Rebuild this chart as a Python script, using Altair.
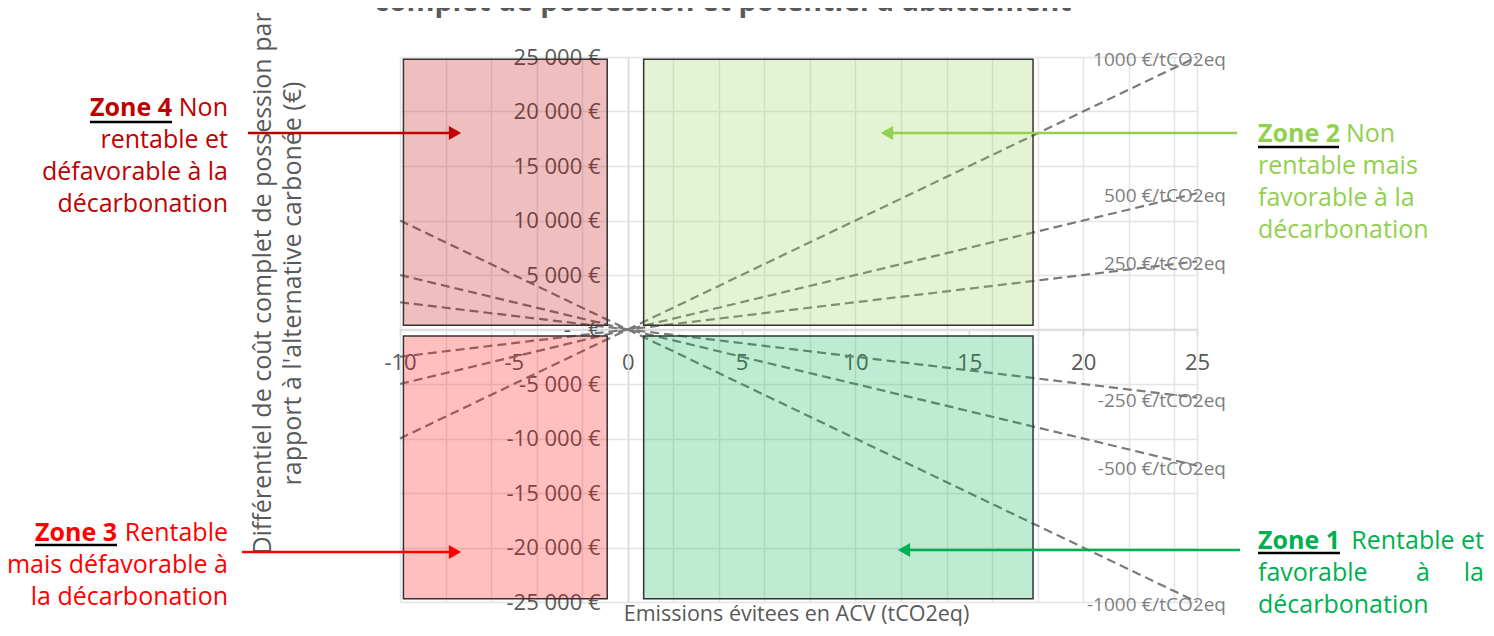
import altair as alt
import pandas as pd

FONT = "Open Sans"
GREY_TXT = "#595959"
GRID = "#E4E4E4"
AXIS = "#D9D9D9"

# ---------------- data ----------------
x_ticks = [-10, -5, 0, 5, 10, 15, 20, 25]
x_grid = [-10, -8, -6, -4, -2, 0, 2, 4, 6, 8, 10, 12, 14, 16, 18, 20, 22, 24, 25]
y_ticks = [-25000, -20000, -15000, -10000, -5000, 0, 5000, 10000, 15000, 20000, 25000]

line_labels = ["1000 €/tCO2eq", "500 €/tCO2eq", "250 €/tCO2eq",
               "-250 €/tCO2eq", "-500 €/tCO2eq", "-1000 €/tCO2eq"]
line_x_start = -10
line_x_end = 25
line_y_start = [-10000, -5000, -2500, 2500, 5000, 10000]
line_y_end = [25000, 12500, 6250, -6250, -12500, -25000]

zone_names = ["Zone 4", "Zone 3", "Zone 2", "Zone 1"]
zone_x0 = [-9.85, -9.85, 0.7, 0.7]
zone_x1 = [-0.9, -0.9, 17.8, 17.8]
zone_y0 = [400, -24700, 400, -24700]
zone_y1 = [24800, -600, 24800, -600]
zone_colors = ["#C00000", "#FF0000", "#92D050", "#00B050"]

title_line = "complet de possession et potentiel d'abattement"
x_title = "Emissions évitees en ACV (tCO2eq)"
y_title = ["Différentiel de coût complet de possession par",
           "rapport à l'alternative carbonée (€)"]

# ---------------- tables ----------------
lines_df = pd.DataFrame({
    "label": line_labels * 2,
    "x": [line_x_start] * len(line_labels) + [line_x_end] * len(line_labels),
    "y": line_y_start + line_y_end,
})
ends_df = pd.DataFrame({"label": line_labels,
                        "x": [line_x_end] * len(line_labels),
                        "y": line_y_end})
zones_df = pd.DataFrame({"zone": zone_names, "x0": zone_x0, "x1": zone_x1,
                         "y0": zone_y0, "y1": zone_y1, "color": zone_colors})

xscale = alt.Scale(domain=[-10, 25], nice=False, zero=False)
yscale = alt.Scale(domain=[-25000, 25000], nice=False, zero=False)

# ---------------- grid axes (with titles) ----------------
x_grid_axis = alt.Axis(values=x_grid, orient="bottom", offset=0, grid=True,
                       gridColor=GRID, gridWidth=1.5, labels=False, ticks=False,
                       domain=False, title=x_title, titleX=396, titleY=12,
                       titleFont=FONT, titleFontSize=21.5, titleFontWeight="normal",
                       titleColor=GREY_TXT, titleAlign="center", titleBaseline="middle")
y_grid_axis = alt.Axis(values=y_ticks, orient="left", offset=0, grid=True,
                       gridColor=GRID, gridWidth=1.5, labels=False, ticks=False,
                       domain=False, title=y_title, titleX=-138, titleY=226,
                       titleAngle=270, titleAlign="center", titleBaseline="middle",
                       titleLineHeight=30, titleFont=FONT, titleFontSize=25,
                       titleFontWeight="normal", titleColor=GREY_TXT)

lines = alt.Chart(lines_df).mark_line(
    color="#7A7A7A", strokeWidth=2.2, strokeDash=[9, 5]
).encode(
    x=alt.X("x:Q", scale=xscale, axis=x_grid_axis),
    y=alt.Y("y:Q", scale=yscale, axis=y_grid_axis),
    detail="label:N",
)

# ---------------- labelled axes crossing at origin ----------------
zero_lbl = "-\u00a0\u00a0\u00a0€"
x_lab_axis = alt.Axis(values=x_ticks, orient="bottom", offset=-273, grid=False,
                      domainColor=AXIS, domainWidth=1.5, ticks=True, tickColor=AXIS,
                      tickSize=6, tickWidth=1.5, labelFont=FONT, labelFontSize=22,
                      labelColor=GREY_TXT, labelPadding=27, labelBaseline="middle",
                      labelFlush=False, labelOverlap=False,
                      labelExpr="'' + datum.value", title=None)
y_lab_axis = alt.Axis(values=y_ticks, orient="left", offset=-228, grid=False,
                      domainColor=AXIS, domainWidth=1.5, ticks=False,
                      labelFont=FONT, labelFontSize=22, labelColor=GREY_TXT,
                      labelPadding=28, labelFlush=False, labelOverlap=False,
                      labelExpr="datum.value == 0 ? '" + zero_lbl + "' : (datum.value / 1000) + ' 000 €'",
                      title=None)

rects = alt.Chart(zones_df).mark_rect(
    fillOpacity=0.25, stroke="#333333", strokeWidth=1.5
).encode(
    x=alt.X("x0:Q", scale=xscale, axis=x_lab_axis),
    x2="x1:Q",
    y=alt.Y("y0:Q", scale=yscale, axis=y_lab_axis),
    y2="y1:Q",
    fill=alt.Fill("color:N", scale=None),
)

end_labels = alt.Chart(ends_df).mark_text(
    align="right", baseline="middle", dx=29, dy=3, font=FONT, fontSize=19, color="#7F7F7F"
).encode(
    x=alt.X("x:Q", scale=xscale, axis=None),
    y=alt.Y("y:Q", scale=yscale, axis=None),
    text="label:N",
)


# ---------------- annotations ----------------
def txt(s, px, py, color, size=25, weight="normal", align="left",
        baseline="middle"):
    return alt.Chart(pd.DataFrame({"t": [s]})).mark_text(
        align=align, baseline=baseline, font=FONT, fontSize=size,
        fontWeight=weight, color=color
    ).encode(text="t:N", x=alt.value(px), y=alt.value(py))


def hline(x0, x1, py, color, width=2.5):
    return alt.Chart(pd.DataFrame({"t": [0]})).mark_rule(
        color=color, strokeWidth=width
    ).encode(x=alt.value(x0), x2=alt.value(x1), y=alt.value(py))


def tri(px, py, color, shape):
    return alt.Chart(pd.DataFrame({"t": [0]})).mark_point(
        shape=shape, filled=True, size=200, color=color, opacity=1
    ).encode(x=alt.value(px), y=alt.value(py))


c4, c3, c2, c1 = zone_colors
ann = [
    txt(title_line, 323, -46, GREY_TXT, size=28.5, weight="bold", align="center",
        baseline="alphabetic"),
    # zone 4
    txt("Zone 4", -228, 51, c4, weight="bold", align="right"),
    txt("Non", -172, 51, c4, align="right"),
    txt("rentable et", -172, 83, c4, align="right"),
    txt("défavorable à la", -172, 115, c4, align="right"),
    txt("décarbonation", -172, 147, c4, align="right"),
    hline(-310, -228, 65, "black"),
    # zone 3
    txt("Zone 3", -283, 476, c3, weight="bold", align="right"),
    txt("Rentable", -172, 476, c3, align="right"),
    txt("mais défavorable à", -172, 508, c3, align="right"),
    txt("la décarbonation", -172, 540, c3, align="right"),
    hline(-365, -283, 488, "black"),
    # zone 2
    txt("Zone 2", 858, 77, c2, weight="bold"),
    txt("Non", 946, 77, c2),
    txt("rentable mais", 858, 109, c2),
    txt("favorable à la", 858, 141, c2),
    txt("décarbonation", 858, 173, c2),
    hline(858, 939, 90, "black"),
    # zone 1
    txt("Zone 1", 858, 484, c1, weight="bold"),
    txt("Rentable et", 1084, 484, c1, align="right"),
    txt("favorable", 858, 516, c1),
    txt("à", 1023, 516, c1, align="center"),
    txt("la", 1084, 516, c1, align="right"),
    txt("décarbonation", 858, 548, c1),
    hline(858, 940, 496, "black"),
    # arrows
    hline(-152, 52, 76, c4),
    tri(55, 76, c4, "triangle-right"),
    hline(-158, 52, 495, c3),
    tri(55, 495, c3, "triangle-right"),
    hline(490, 837, 76, c2),
    tri(487, 76, c2, "triangle-left"),
    hline(505, 840, 493, c1),
    tri(504, 493, c1, "triangle-left"),
]

chart = alt.layer(lines, rects, end_labels, *ann).resolve_axis(
    x="independent", y="independent"
).properties(
    width=797, height=545,
    autosize=alt.AutoSizeParams(type="none"),
    padding={"left": 392, "top": 49, "right": 289, "bottom": 26},
    background="white",
).configure_view(stroke=None)

chart.save("out.html", embed_options={"renderer": "svg", "actions": False})
